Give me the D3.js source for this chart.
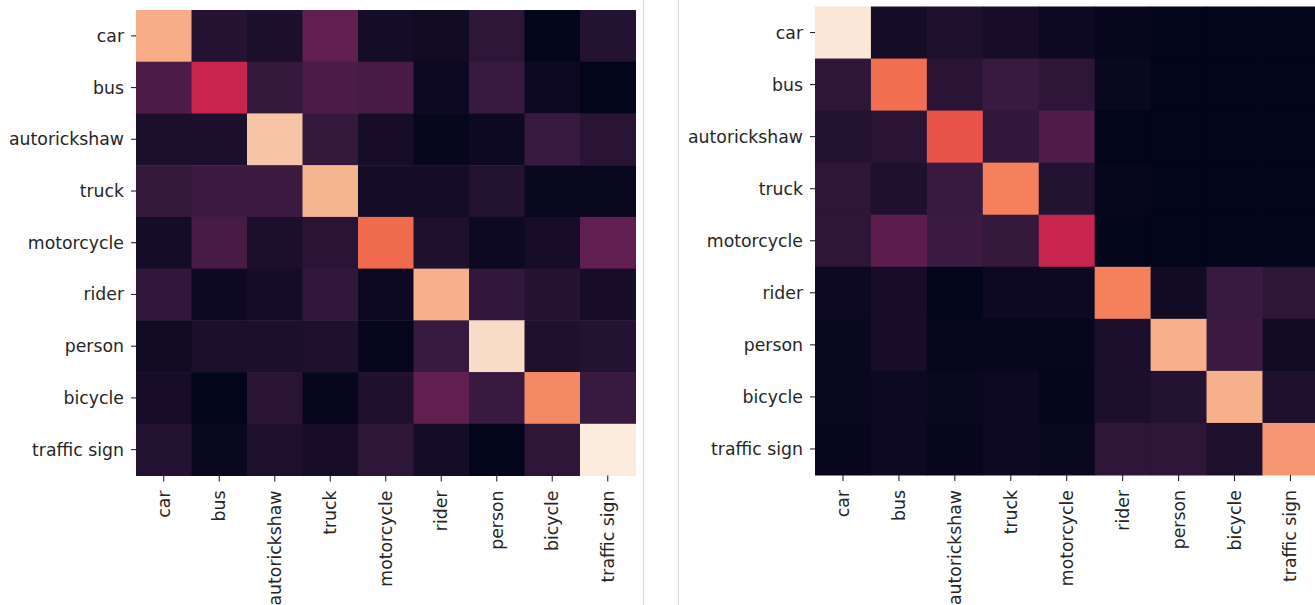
<!DOCTYPE html>
<html>
<head>
<meta charset="utf-8">
<script src="https://cdn.jsdelivr.net/npm/d3@7"></script>
<style>
  body { margin: 0; background: #fff; overflow: hidden; }
  text { font-family: "DejaVu Sans", sans-serif; }
</style>
</head>
<body>
<div id="container"></div>
<script>

// class names, same order on both axes
const classes = ['car', 'bus', 'autorickshaw', 'truck', 'motorcycle', 'rider', 'person', 'bicycle', 'traffic sign'];

// left matrix (rows = true class, cols = predicted)
const leftValues = [
  [0.84, 0.10, 0.07, 0.25, 0.05, 0.04, 0.12, 0.00, 0.09],
  [0.20, 0.50, 0.14, 0.20, 0.19, 0.03, 0.15, 0.03, 0.00],
  [0.07, 0.07, 0.90, 0.14, 0.06, 0.01, 0.03, 0.15, 0.11],
  [0.14, 0.16, 0.16, 0.86, 0.05, 0.05, 0.09, 0.02, 0.02],
  [0.05, 0.19, 0.07, 0.11, 0.69, 0.08, 0.03, 0.06, 0.25],
  [0.13, 0.03, 0.05, 0.13, 0.03, 0.85, 0.13, 0.10, 0.06],
  [0.04, 0.07, 0.07, 0.08, 0.01, 0.15, 0.96, 0.08, 0.09],
  [0.06, 0.00, 0.11, 0.01, 0.08, 0.25, 0.15, 0.76, 0.15],
  [0.09, 0.02, 0.08, 0.06, 0.12, 0.05, 0.00, 0.12, 1.00]
];

// right matrix
const rightValues = [
  [0.99, 0.05, 0.08, 0.06, 0.03, 0.01, 0.00, 0.00, 0.00],
  [0.12, 0.70, 0.11, 0.15, 0.12, 0.02, 0.00, 0.00, 0.00],
  [0.09, 0.11, 0.64, 0.13, 0.21, 0.00, 0.00, 0.00, 0.00],
  [0.12, 0.08, 0.15, 0.74, 0.09, 0.01, 0.00, 0.00, 0.00],
  [0.12, 0.24, 0.16, 0.14, 0.50, 0.00, 0.00, 0.00, 0.00],
  [0.03, 0.06, 0.00, 0.03, 0.03, 0.74, 0.04, 0.15, 0.12],
  [0.02, 0.06, 0.01, 0.01, 0.01, 0.07, 0.85, 0.16, 0.04],
  [0.02, 0.03, 0.02, 0.03, 0.005, 0.07, 0.09, 0.85, 0.08],
  [0.01, 0.03, 0.01, 0.03, 0.02, 0.12, 0.12, 0.08, 0.79]
];

// seaborn "rocket" colormap, evenly spaced stops
const rocket = d3.piecewise(d3.interpolateRgb, [
  '#03051a', '#35193e', '#701f57', '#ad1759', '#e13342', '#f37651', '#f6b48f', '#faebdd'
]);

const width = 1315;
const height = 605;
const textColor = '#262626';

const svg = d3.create('svg')
    .attr('width', width)
    .attr('height', height);

// thin separators between the two panels
[643.5, 678.5].forEach(x => {
  svg.append('line')
      .attr('x1', x).attr('x2', x)
      .attr('y1', 0).attr('y2', height)
      .attr('stroke', '#dcdcdc')
      .attr('stroke-width', 1);
});

function drawHeatmap(values, left, top, w, h) {
  const x = d3.scaleBand().domain(classes).range([left, left + w]);
  const y = d3.scaleBand().domain(classes).range([top, top + h]);
  const color = d3.scaleSequential(rocket).domain([0, 1]);

  const cells = [];
  values.forEach((row, i) => row.forEach((v, j) => cells.push({ r: classes[i], c: classes[j], v })));

  const g = svg.append('g');

  g.selectAll('rect').data(cells).enter().append('rect')
      .attr('x', d => x(d.c))
      .attr('y', d => y(d.r))
      .attr('width', x.bandwidth() + 0.5)
      .attr('height', y.bandwidth() + 0.5)
      .attr('fill', d => color(d.v));

  const ya = g.append('g')
      .attr('transform', `translate(${left},0)`)
      .call(d3.axisLeft(y).tickSize(5).tickPadding(7));

  const xa = g.append('g')
      .attr('transform', `translate(0,${top + h})`)
      .call(d3.axisBottom(x).tickSize(6).tickPadding(8));

  [ya, xa].forEach(a => {
    a.select('.domain').remove();
    a.selectAll('.tick line').attr('stroke', textColor).attr('stroke-width', 1.1);
    a.selectAll('.tick text')
        .attr('fill', textColor)
        .style('font-size', '17.3px')
        .style('font-family', '"DejaVu Sans", sans-serif');
  });

  ya.selectAll('.tick text').attr('dy', null).attr('dominant-baseline', 'central');

  xa.selectAll('.tick text')
      .attr('y', null).attr('dy', null)
      .attr('text-anchor', 'end')
      .attr('dominant-baseline', 'central')
      .attr('transform', 'translate(0,15) rotate(-90)');
}

drawHeatmap(leftValues, 136, 10, 499.5, 465.5);
drawHeatmap(rightValues, 815, 6.5, 503.4, 468.5);

container.append(svg.node());

</script>
</body>
</html>
